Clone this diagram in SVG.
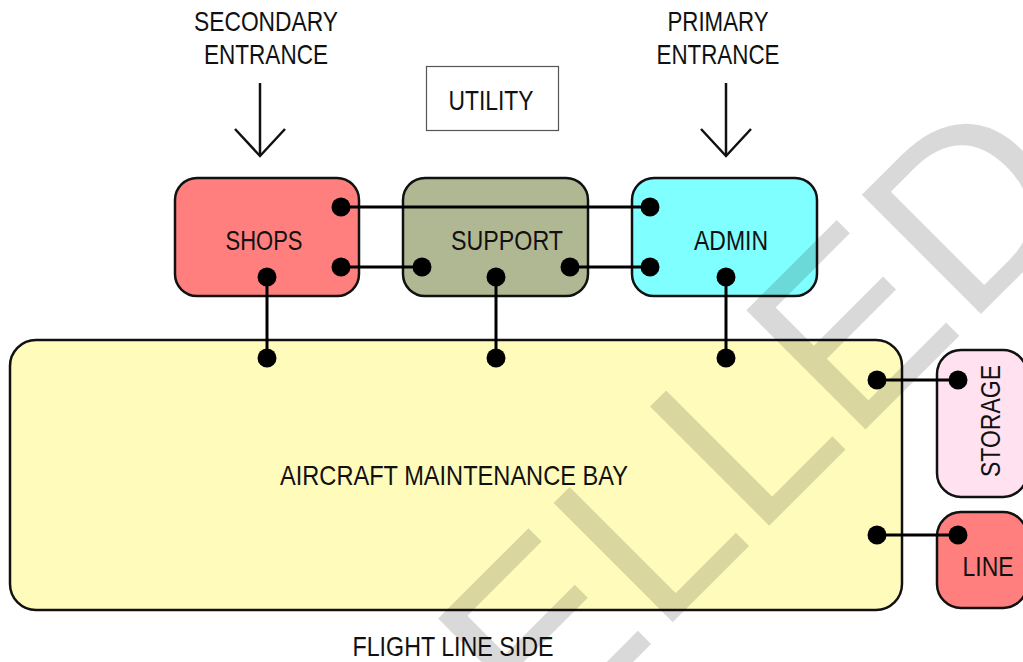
<svg xmlns="http://www.w3.org/2000/svg" width="1023" height="662" viewBox="0 0 1023 662">
<style>
.t{font-family:"Liberation Sans",Arial,sans-serif;font-size:28px;fill:#111;}
.box{stroke:#111;stroke-width:2.5;}
.ln{stroke:#000;stroke-width:3;fill:none;}
.dot{fill:#000;}
.arr{stroke:#111;stroke-width:2.5;fill:none;}
.wm{font-family:"Liberation Sans",Arial,sans-serif;font-size:245px;fill:#000;fill-opacity:0.15;}
</style>
<defs>
<marker id="vhead" markerUnits="userSpaceOnUse" markerWidth="60" markerHeight="60" viewBox="-30 -30 60 60" refX="0" refY="0" orient="auto">
<path d="M-27,-25 L0,0 L-27,25" fill="none" stroke="#111" stroke-width="2.5"/>
</marker>
</defs>
<rect width="1023" height="662" fill="#fff"/>

<g id="secondary-entrance">
<text class="t" x="266" y="31" text-anchor="middle" textLength="144" lengthAdjust="spacingAndGlyphs">SECONDARY</text>
<text class="t" x="266" y="64" text-anchor="middle" textLength="124" lengthAdjust="spacingAndGlyphs">ENTRANCE</text>
<line class="arr" x1="260" y1="83" x2="260" y2="156" marker-end="url(#vhead)"/>
</g>
<g id="primary-entrance">
<text class="t" x="718" y="31" text-anchor="middle" textLength="101" lengthAdjust="spacingAndGlyphs">PRIMARY</text>
<text class="t" x="718" y="64" text-anchor="middle" textLength="123" lengthAdjust="spacingAndGlyphs">ENTRANCE</text>
<line class="arr" x1="726" y1="83" x2="726" y2="156" marker-end="url(#vhead)"/>
</g>
<g id="utility">
<rect x="426.5" y="66.5" width="132" height="64" fill="#fff" stroke="#555" stroke-width="1.2"/>
<text class="t" x="491" y="110" text-anchor="middle" textLength="85" lengthAdjust="spacingAndGlyphs">UTILITY</text>
</g>

<g id="shops">
<rect class="box" x="175" y="178" width="184" height="118" rx="22" fill="#FF7F7F"/>
<text class="t" x="264" y="250" text-anchor="middle" textLength="77" lengthAdjust="spacingAndGlyphs">SHOPS</text>
</g>
<g id="support">
<rect class="box" x="403" y="178" width="185" height="118" rx="22" fill="#B0B893"/>
<text class="t" x="507" y="250" text-anchor="middle" textLength="112" lengthAdjust="spacingAndGlyphs">SUPPORT</text>
</g>
<g id="admin">
<rect class="box" x="632" y="178" width="185" height="118" rx="22" fill="#7FFFFF"/>
<text class="t" x="731" y="250" text-anchor="middle" textLength="74" lengthAdjust="spacingAndGlyphs">ADMIN</text>
</g>
<g id="bay">
<rect class="box" x="10" y="340" width="892" height="270" rx="26" fill="#FFFCBB"/>
<text class="t" x="454" y="485" text-anchor="middle" textLength="348" lengthAdjust="spacingAndGlyphs">AIRCRAFT MAINTENANCE BAY</text>
</g>
<g id="storage">
<rect class="box" x="937" y="350" width="90" height="147" rx="24" fill="#FFE1F0"/>
<text class="t" transform="translate(1000,421) rotate(-90)" x="0" y="0" text-anchor="middle" textLength="112" lengthAdjust="spacingAndGlyphs">STORAGE</text>
</g>
<g id="line">
<rect class="box" x="937" y="512" width="90" height="96" rx="24" fill="#FF7F7F"/>
<text class="t" x="988" y="576" text-anchor="middle" textLength="51" lengthAdjust="spacingAndGlyphs">LINE</text>
</g>
<g id="flight-line-side">
<text class="t" x="453" y="656" text-anchor="middle" textLength="201" lengthAdjust="spacingAndGlyphs">FLIGHT LINE SIDE</text>
</g>

<g id="connectors">
<path class="ln" d="M341,207 H650"/>
<path class="ln" d="M341,267 H422"/>
<path class="ln" d="M570,267 H650"/>
<path class="ln" d="M267,277 V358"/>
<path class="ln" d="M496,277 V358"/>
<path class="ln" d="M726,277 V358"/>
<path class="ln" d="M877,380 H958"/>
<path class="ln" d="M877,535 H958"/>
<circle class="dot" cx="341" cy="207" r="9.5"/>
<circle class="dot" cx="341" cy="267" r="9.5"/>
<circle class="dot" cx="650" cy="207" r="9.5"/>
<circle class="dot" cx="650" cy="267" r="9.5"/>
<circle class="dot" cx="422" cy="267" r="9.5"/>
<circle class="dot" cx="570" cy="267" r="9.5"/>
<circle class="dot" cx="267" cy="277" r="9.5"/>
<circle class="dot" cx="496" cy="277" r="9.5"/>
<circle class="dot" cx="726" cy="277" r="9.5"/>
<circle class="dot" cx="267" cy="358" r="9.5"/>
<circle class="dot" cx="496" cy="358" r="9.5"/>
<circle class="dot" cx="726" cy="358" r="9.5"/>
<circle class="dot" cx="877" cy="380" r="9.5"/>
<circle class="dot" cx="877" cy="535" r="9.5"/>
<circle class="dot" cx="958" cy="380" r="9.5"/>
<circle class="dot" cx="958" cy="535" r="9.5"/>
</g>

<g id="watermark">
<text class="wm" transform="translate(572,723) rotate(-45)" x="0" y="0" text-anchor="middle">CANCELLED</text>
</g>
</svg>
